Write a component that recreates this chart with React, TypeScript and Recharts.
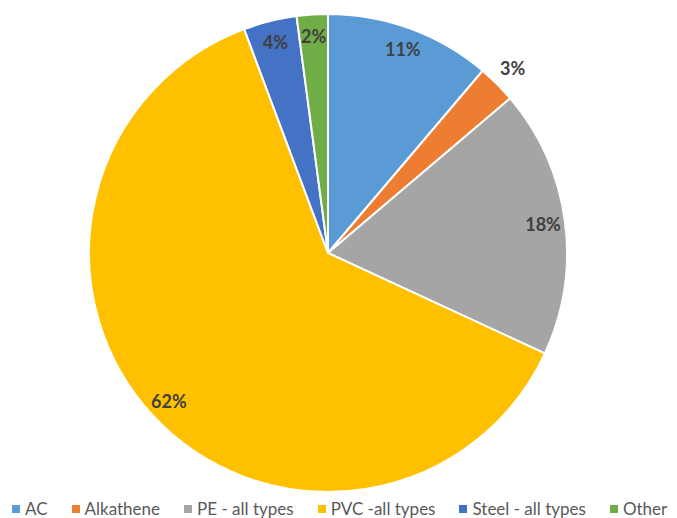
import React from 'react';
import { PieChart, Pie, Cell, Legend } from 'recharts';

// pipe material share
const materials = ['AC', 'Alkathene', 'PE - all types', 'PVC -all types', 'Steel - all types', 'Other'];
const shares = [11.2, 2.6, 18.1, 62.4, 3.6, 2.1];

const COLORS = ['#5B9BD5', '#ED7D31', '#A5A5A5', '#FFC000', '#4472C4', '#70AD47'];
const OUTSIDE_LABELS = ['Alkathene'];
const FONT = 'Lato, "Open Sans", sans-serif';
const RAD = Math.PI / 180;

const data = materials.map((name, i) => ({ name, value: shares[i] }));

const renderLabel = (props: any) => {
  const { cx, cy, midAngle, outerRadius, percent, name } = props;
  const r = OUTSIDE_LABELS.includes(name) ? outerRadius + 22 : outerRadius - 22;
  const x = cx + r * Math.cos(-midAngle * RAD);
  const y = cy + r * Math.sin(-midAngle * RAD);
  return (
    <text
      x={x}
      y={y}
      fill="#404040"
      textAnchor="middle"
      dominantBaseline="central"
      style={{ fontFamily: FONT, fontWeight: 700, fontSize: 18 }}
    >
      {`${Math.round(percent * 100)}%`}
    </text>
  );
};

const renderLegend = () => (
  <div
    style={{
      display: 'flex',
      gap: 24,
      paddingLeft: 12,
      fontFamily: FONT,
      fontSize: 17,
      color: '#595959',
      whiteSpace: 'nowrap',
    }}
  >
    {materials.map((m, i) => (
      <div key={m} style={{ display: 'flex', alignItems: 'center' }}>
        <span style={{ width: 8, height: 8, background: COLORS[i], marginRight: 5, display: 'inline-block' }} />
        <span>{m}</span>
      </div>
    ))}
  </div>
);

export default function App() {
  return (
    <div style={{ position: 'absolute', left: 0, top: 0, width: 677, height: 518, overflow: 'hidden', background: '#fff' }}>
      <PieChart width={677} height={518} margin={{ top: 0, right: 0, bottom: 0, left: 0 }}>
        <Pie
          data={data}
          dataKey="value"
          nameKey="name"
          cx={328}
          cy={253}
          outerRadius={239}
          startAngle={90}
          endAngle={-270}
          stroke="#fff"
          strokeWidth={2}
          label={renderLabel}
          labelLine={false}
          isAnimationActive={false}
        >
          {data.map((entry, index) => (
            <Cell key={`cell-${index}`} fill={COLORS[index]} />
          ))}
        </Pie>
        <Legend
          content={renderLegend}
          wrapperStyle={{ position: 'absolute', top: 498, left: 0, width: 677 }}
        />
      </PieChart>
    </div>
  );
}
